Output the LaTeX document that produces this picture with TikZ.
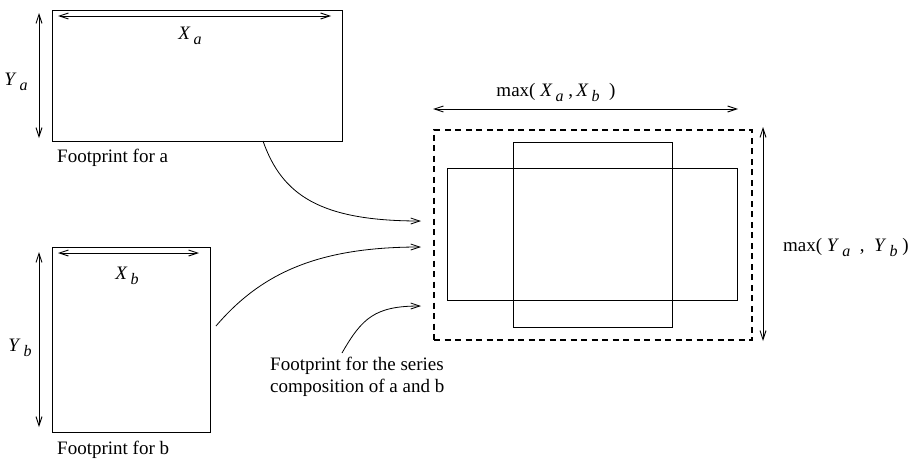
\documentclass[tikz,border=0pt]{standalone}
\usepackage{fontspec}
\setmainfont{Liberation Serif}
\usetikzlibrary{arrows.meta}
\newcommand{\mysub}[2]{\textit{#1}\,\raisebox{-5pt}{\fontsize{16}{16}\selectfont\textit{#2}}}
\begin{document}
\begin{tikzpicture}[x=1pt,y=-1pt,
  every node/.style={font=\fontsize{19}{22}\selectfont, inner sep=0pt},
  fbox/.style={draw, line width=0.9pt, rectangle, anchor=north west},
  dim/.style={line width=0.9pt, {Straight Barb[length=9pt,width=6pt]}-{Straight Barb[length=9pt,width=6pt]}},
  conn/.style={line width=0.8pt, -{Straight Barb[length=9pt,width=6pt]}},
  lbl/.style={anchor=west}]
\useasboundingbox (0,0) rectangle (911,463);
% footprint a
\node[fbox, minimum width=290pt, minimum height=131pt] (boxa) at (52,10) {};
\coordinate (xa1) at (58,16); \coordinate (xa2) at (331,16);
\draw[dim] (xa1) -- (xa2);
\coordinate (ya1) at (39,13); \coordinate (ya2) at (39,138);
\draw[dim] (ya1) -- (ya2);
\node (xal) at (190,36) {\mysub{X}{a}};
\node (yal) at (16,82) {\mysub{Y}{a}};
\node[lbl] (fa) at (57,158) {Footprint for a};
% footprint b
\node[fbox, minimum width=158pt, minimum height=185pt] (boxb) at (52,247) {};
\coordinate (xb1) at (58,253); \coordinate (xb2) at (199,253);
\draw[dim] (xb1) -- (xb2);
\coordinate (yb1) at (39,252); \coordinate (yb2) at (39,427);
\draw[dim] (yb1) -- (yb2);
\node (xbl) at (127,276) {\mysub{X}{b}};
\node (ybl) at (20,348) {\mysub{Y}{b}};
\node[lbl] (fb) at (57,450) {Footprint for b};
% composite
\node[draw, line width=2.4pt, dash pattern=on 6pt off 4.5pt, rectangle, anchor=north west,
  minimum width=318pt, minimum height=210pt] (dbox) at (433,129) {};
\node[fbox, minimum width=290pt, minimum height=132pt] (ra) at (447,168) {};
\node[fbox, minimum width=159pt, minimum height=185pt] (rb) at (513,142) {};
\coordinate (mx1) at (433,109); \coordinate (mx2) at (738,109);
\draw[dim] (mx1) -- (mx2);
\coordinate (my1) at (763,127); \coordinate (my2) at (763,341);
\draw[dim] (my1) -- (my2);
\node (mxl) at (556,92) {max(\ \mysub{X}{a}\ ,\,\mysub{X}{b}\ \ )};
\node[lbl] (myl) at (783,247) {max(\ \mysub{Y}{a}\ \ ,\ \ \mysub{Y}{b}\ )};
% series label
\node[lbl] (fs1) at (270,366) {Footprint for the series};
\node[lbl] (fs2) at (270,388) {composition of a and b};
% connectors
\coordinate (s1) at (263,141); \coordinate (e1) at (421,221);
\draw[conn] (s1) .. controls (282,195) and (320,221) .. (e1);
\coordinate (s2) at (216,326); \coordinate (e2) at (421,247);
\draw[conn] (s2) .. controls (262,272) and (320,247) .. (e2);
\coordinate (s3) at (342,353); \coordinate (e3) at (421,306);
\draw[conn] (s3) .. controls (362,318) and (375,306) .. (e3);
\end{tikzpicture}
\end{document}
